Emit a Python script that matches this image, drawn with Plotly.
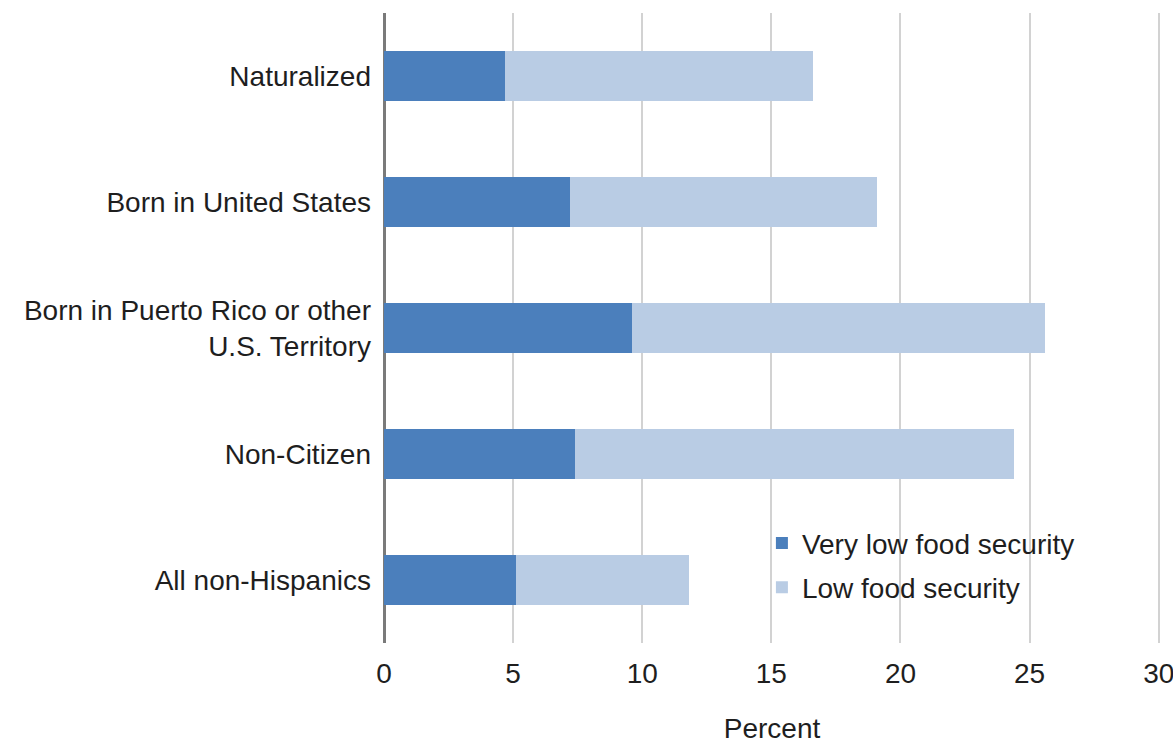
import plotly.graph_objects as go

# Household food insecurity among non-Hispanic households, by citizenship / nativity
categories = [
    "Naturalized",
    "Born in United States",
    "Born in Puerto Rico or other<br>U.S. Territory",
    "Non-Citizen",
    "All non-Hispanics",
]
very_low = [4.7, 7.2, 9.6, 7.4, 5.1]
low = [11.9, 11.9, 16.0, 17.0, 6.7]
x_ticks = [0, 5, 10, 15, 20, 25, 30]

DARK = "#4b7fbc"
LIGHT = "#b9cce4"
FONT = "Liberation Sans, Arial, sans-serif"

fig = go.Figure()
fig.add_trace(go.Bar(
    y=categories, x=very_low, orientation="h", name="Very low food security",
    marker=dict(color=DARK, line=dict(width=0)), legendgroup="a",
))
fig.add_trace(go.Bar(
    y=categories, x=low, orientation="h", name="Low food security",
    marker=dict(color=LIGHT, line=dict(width=0)), legendgroup="b",
))

fig.update_layout(
    width=1173, height=745,
    barmode="stack", bargap=0.6,
    plot_bgcolor="white", paper_bgcolor="white",
    margin=dict(l=384, r=13, t=13, b=102),
    font=dict(family=FONT, size=28, color="#1e1e1e"),
    legend=dict(
        x=0.487, xanchor="left", y=0.198, yanchor="top",
        bgcolor="rgba(0,0,0,0)", traceorder="grouped", tracegroupgap=5,
        font=dict(size=28),
    ),
    xaxis=dict(
        range=[0, 30.05], tickvals=x_ticks, ticktext=[str(v) for v in x_ticks],
        showgrid=True, gridcolor="#d2d2d2", gridwidth=2,
        zeroline=True, zerolinecolor="#7a7a7a", zerolinewidth=3,
        showline=False, ticks="", ticklabelstandoff=11,
        ticklabeloverflow="allow", automargin=False,
        title=dict(text="Percent", standoff=30, font=dict(size=28)),
    ),
    yaxis=dict(
        autorange="reversed", showgrid=False, zeroline=False, showline=False,
        ticks="", ticklabelstandoff=12, automargin=False,
    ),
)

fig.write_html("out.html")
